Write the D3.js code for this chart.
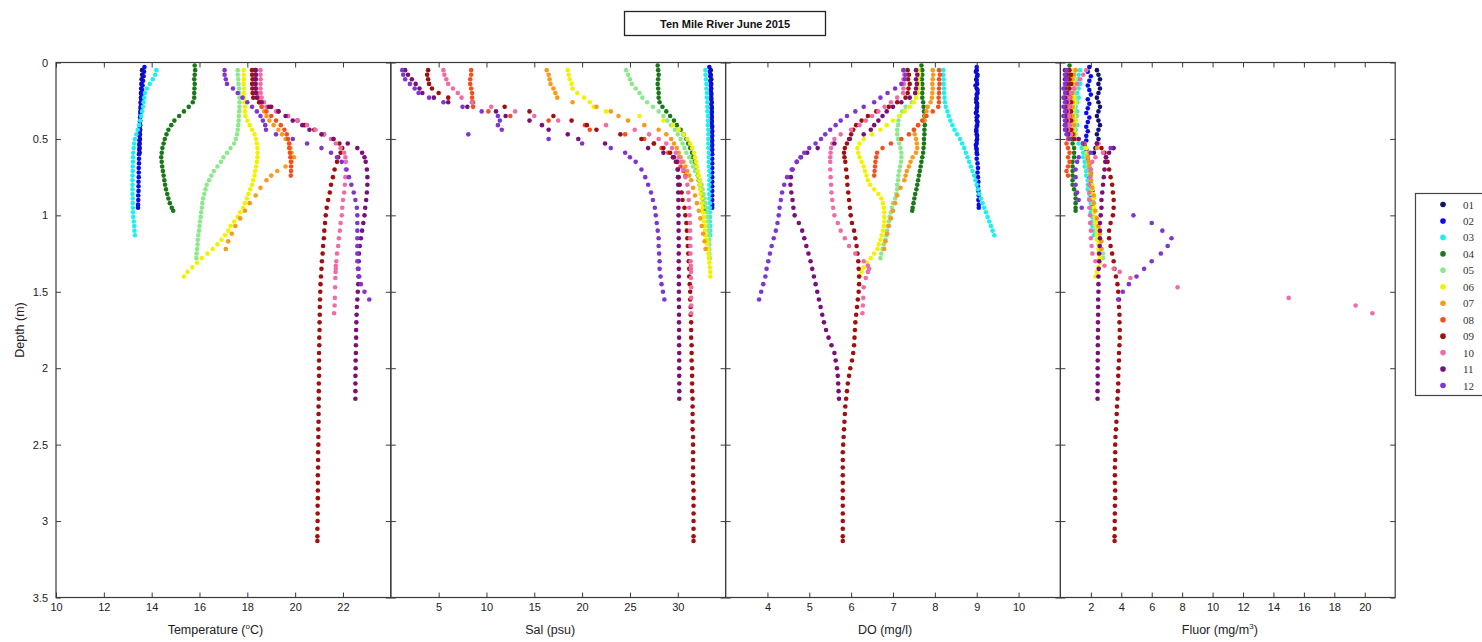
<!DOCTYPE html>
<html>
<head>
<meta charset="utf-8">
<script src="https://cdn.jsdelivr.net/npm/d3@7"></script>
<style>
  body { margin: 0; background: #fff; }
  text { font-family: "Liberation Sans", Arial, sans-serif; }
</style>
</head>
<body>
<div id="chart"></div>
<script>
// stations (legend entries) and their colours
const stations = ["01", "02", "03", "04", "05", "06", "07", "08", "09", "10", "11", "12"];
const colors = ["#12126e", "#0a0aee", "#22eeee", "#1a781a", "#8de88d", "#f2f200",
                "#f89a1c", "#f5501e", "#a01010", "#f06ca8", "#7a0f7a", "#7f35d0"];

// sample depths (m) for each station
const depth = [
  [0.05,0.08,0.11,0.14,0.17,0.20,0.23,0.26,0.29,0.32,0.35,0.38,0.41,0.44,0.47,0.50,0.53,0.56,0.59],
  [0.03,0.06,0.09,0.12,0.15,0.18,0.21,0.24,0.27,0.30,0.33,0.36,0.39,0.42,0.45,0.48,0.51,0.54,0.57,0.60,0.63,0.66,0.69,0.72,0.75,0.78,0.81,0.84,0.87,0.90,0.93,0.95],
  [0.05,0.08,0.11,0.14,0.17,0.20,0.23,0.26,0.29,0.32,0.35,0.38,0.41,0.44,0.47,0.50,0.53,0.56,0.59,0.62,0.65,0.68,0.71,0.74,0.77,0.80,0.83,0.86,0.89,0.92,0.95,0.98,1.01,1.04,1.07,1.10,1.13],
  [0.02,0.05,0.08,0.11,0.14,0.17,0.20,0.23,0.26,0.29,0.32,0.35,0.38,0.41,0.44,0.47,0.50,0.53,0.56,0.59,0.62,0.65,0.68,0.71,0.74,0.77,0.80,0.83,0.86,0.89,0.92,0.95,0.97],
  [0.05,0.08,0.11,0.14,0.17,0.20,0.23,0.26,0.29,0.32,0.35,0.38,0.41,0.44,0.47,0.50,0.53,0.56,0.59,0.62,0.65,0.68,0.71,0.74,0.77,0.80,0.83,0.86,0.89,0.92,0.95,0.98,1.01,1.04,1.07,1.10,1.13,1.16,1.19,1.22,1.25,1.28],
  [0.05,0.08,0.11,0.14,0.17,0.20,0.23,0.26,0.29,0.32,0.35,0.38,0.41,0.44,0.47,0.50,0.53,0.56,0.59,0.62,0.65,0.68,0.71,0.74,0.77,0.80,0.83,0.86,0.89,0.92,0.95,0.98,1.01,1.04,1.07,1.10,1.13,1.16,1.19,1.22,1.25,1.28,1.31,1.34,1.37,1.40],
  [0.05,0.08,0.11,0.14,0.17,0.20,0.23,0.26,0.29,0.32,0.35,0.38,0.41,0.44,0.47,0.50,0.53,0.56,0.59,0.62,0.65,0.68,0.71,0.74,0.77,0.82,0.87,0.92,0.97,1.02,1.07,1.12,1.17,1.22],
  [0.05,0.08,0.11,0.14,0.17,0.20,0.23,0.26,0.29,0.32,0.35,0.38,0.41,0.44,0.47,0.50,0.53,0.56,0.59,0.62,0.65,0.68,0.71,0.74],
  [0.05,0.08,0.11,0.14,0.17,0.20,0.23,0.26,0.29,0.32,0.35,0.38,0.41,0.44,0.47,0.50,0.53,0.56,0.59,0.62,0.65,
   0.70,0.75,0.80,0.85,0.90,0.95,1.00,1.05,1.10,1.15,1.20,1.25,1.30,1.35,1.40,1.45,1.50,1.55,1.60,1.65,1.70,1.75,1.80,1.85,1.90,1.95,
   2.00,2.05,2.10,2.15,2.20,2.25,2.30,2.35,2.40,2.45,2.50,2.55,2.60,2.65,2.70,2.75,2.80,2.85,2.90,2.95,3.00,3.05,3.10,3.13],
  [0.05,0.08,0.11,0.14,0.17,0.20,0.23,0.26,0.29,0.32,0.35,0.38,0.41,0.44,0.47,0.50,0.53,0.56,0.59,0.62,0.65,
   0.70,0.75,0.80,0.85,0.90,0.95,1.00,1.05,1.10,1.15,1.20,1.25,1.30,1.33,1.35,1.37,1.41,1.47,1.54,1.59,1.64],
  [0.05,0.08,0.11,0.14,0.17,0.20,0.23,0.26,0.29,0.32,0.35,0.38,0.41,0.44,0.47,0.50,0.53,0.56,0.59,0.62,0.65,
   0.70,0.75,0.80,0.85,0.90,0.95,1.00,1.05,1.10,1.15,1.20,1.25,1.30,1.35,1.40,1.45,1.50,1.55,1.60,1.65,1.70,1.75,1.80,1.85,1.90,1.95,2.00,2.05,2.10,2.15,2.20],
  [0.05,0.08,0.11,0.14,0.17,0.20,0.23,0.26,0.29,0.32,0.35,0.38,0.41,0.44,0.47,0.50,0.53,0.56,0.59,0.62,0.65,
   0.70,0.75,0.80,0.85,0.90,0.95,1.00,1.05,1.10,1.15,1.20,1.25,1.30,1.35,1.40,1.45,1.50,1.55]
];

// temperature (deg C)
const temperature = [
  [13.6,13.6,13.58,13.57,13.56,13.55,13.55,13.54,13.54,13.53,13.53,13.52,13.52,13.52,13.51,13.51,13.5,13.5,13.5],
  [13.7,13.68,13.66,13.64,13.62,13.6,13.58,13.57,13.55,13.54,13.53,13.52,13.51,13.5,13.5,13.49,13.49,13.48,13.48,13.47,13.47,13.47,13.46,13.46,13.46,13.45,13.45,13.45,13.44,13.44,13.43,13.43],
  [14.2,14.15,14.05,13.92,13.8,13.72,13.69,13.66,13.64,13.6,13.56,13.52,13.48,13.42,13.36,13.3,13.27,13.25,13.23,13.22,13.22,13.21,13.21,13.2,13.2,13.2,13.2,13.2,13.21,13.21,13.22,13.22,13.23,13.25,13.27,13.28,13.3],
  [15.8,15.82,15.8,15.78,15.8,15.79,15.78,15.78,15.72,15.55,15.35,15.15,14.95,14.82,14.7,14.62,14.55,14.5,14.45,14.42,14.4,14.42,14.44,14.47,14.5,14.53,14.56,14.6,14.65,14.7,14.76,14.84,14.9],
  [17.6,17.6,17.62,17.63,17.65,17.66,17.67,17.67,17.67,17.66,17.65,17.64,17.62,17.6,17.57,17.52,17.45,17.3,17.15,17.0,16.9,16.75,16.6,16.5,16.4,16.3,16.25,16.2,16.15,16.12,16.1,16.07,16.05,16.02,16.0,15.98,15.95,15.93,15.92,15.9,15.88,15.87],
  [17.85,17.85,17.86,17.85,17.86,17.86,17.87,17.88,17.9,17.9,17.92,18.0,18.1,18.2,18.3,18.36,18.4,18.42,18.43,18.42,18.4,18.37,18.33,18.3,18.25,18.2,18.12,18.05,17.98,17.9,17.83,17.7,17.6,17.45,17.3,17.2,17.07,16.92,16.75,16.55,16.33,16.1,15.9,15.7,15.5,15.35],
  [18.3,18.3,18.3,18.32,18.35,18.4,18.45,18.5,18.6,18.7,18.8,18.92,19.1,19.3,19.45,19.6,19.75,19.8,19.85,19.95,19.85,19.6,19.25,19.0,18.8,18.55,18.35,18.1,17.9,17.7,17.5,17.35,17.2,17.1],
  [18.35,18.35,18.36,18.35,18.37,18.4,18.45,18.5,18.6,18.8,19.0,19.2,19.4,19.55,19.65,19.7,19.75,19.75,19.78,19.8,19.82,19.83,19.83,19.82],
  [18.2,18.2,18.22,18.2,18.21,18.22,18.25,18.5,19.0,19.3,19.7,20.1,20.4,20.8,21.2,21.6,21.85,21.97,21.9,21.8,21.75,
   21.65,21.58,21.5,21.45,21.38,21.32,21.28,21.25,21.22,21.2,21.17,21.15,21.12,21.1,21.08,21.06,21.05,21.04,21.03,21.03,21.02,21.02,21.01,21.01,21.0,21.0,
   21.0,21.0,20.99,20.99,20.99,20.98,20.98,20.98,20.97,20.97,20.97,20.96,20.96,20.96,20.95,20.95,20.95,20.95,20.94,20.94,20.94,20.93,20.93,20.93],
  [18.55,18.55,18.56,18.55,18.55,18.56,18.6,18.7,18.8,19.2,19.7,20.1,20.5,20.85,21.2,21.5,21.7,21.9,22.05,22.1,22.12,
   22.12,22.1,22.08,22.05,22.0,21.97,21.95,21.9,21.87,21.83,21.8,21.75,21.72,21.7,21.7,21.69,21.68,21.67,21.66,21.65,21.63],
  [18.35,18.36,18.35,18.34,18.35,18.36,18.4,18.6,18.9,19.3,19.6,19.9,20.3,20.6,21.1,21.6,22.2,22.6,22.8,22.9,22.95,
   23.0,23.02,23.02,23.0,22.97,22.93,22.9,22.85,22.8,22.75,22.7,22.67,22.66,22.65,22.65,22.64,22.62,22.6,22.58,22.57,22.56,22.55,22.55,22.54,22.54,22.53,22.53,22.52,22.52,22.52,22.52],
  [17.05,17.05,17.1,17.15,17.4,17.6,17.8,18.0,18.2,18.4,18.55,18.65,18.75,18.78,19.2,19.9,20.5,21.1,21.5,21.75,21.95,
   22.15,22.25,22.35,22.45,22.52,22.58,22.6,22.6,22.6,22.6,22.6,22.6,22.6,22.62,22.68,22.75,22.9,23.1]
];

// salinity (psu)
const salinity = [
  [33.45,33.45,33.5,33.5,33.5,33.5,33.5,33.55,33.55,33.55,33.55,33.55,33.55,33.55,33.55,33.55,33.55,33.55,33.55],
  [33.3,33.35,33.4,33.4,33.45,33.45,33.5,33.5,33.5,33.55,33.55,33.55,33.55,33.6,33.6,33.6,33.6,33.6,33.6,33.6,33.6,33.6,33.6,33.6,33.6,33.6,33.6,33.6,33.6,33.6,33.6,33.6],
  [32.9,32.9,32.95,33.0,33.0,33.05,33.05,33.1,33.1,33.1,33.15,33.15,33.15,33.2,33.2,33.2,33.2,33.2,33.25,33.25,33.25,33.25,33.3,33.3,33.3,33.3,33.3,33.3,33.3,33.35,33.35,33.35,33.35,33.35,33.4,33.4,33.4],
  [27.9,27.95,28.0,27.95,27.9,27.95,28.0,28.0,28.1,28.4,28.8,29.2,29.6,29.9,30.3,30.6,30.9,31.1,31.3,31.5,31.6,31.8,31.9,32.0,32.1,32.2,32.3,32.4,32.5,32.6,32.7,32.75,32.8],
  [24.6,24.8,25.0,25.2,25.6,26.0,26.3,26.8,27.4,28.0,28.5,28.9,29.3,29.7,30.0,30.3,30.5,30.7,30.9,31.2,31.4,31.6,31.8,32.1,32.3,32.5,32.6,32.7,32.8,32.9,33.0,33.05,33.1,33.15,33.2,33.2,33.25,33.3,33.3,33.3,33.3,33.35],
  [18.5,18.6,18.7,18.9,19.0,19.5,20.2,20.8,21.2,22.5,26.0,28.5,29.5,30.1,30.6,31.0,31.3,31.5,31.7,31.8,31.9,32.0,32.1,32.2,32.25,32.3,32.35,32.4,32.5,32.55,32.6,32.65,32.7,32.75,32.8,32.85,32.9,33.0,33.1,33.15,33.2,33.25,33.3,33.35,33.4,33.4],
  [16.3,16.5,16.6,16.7,17.0,17.2,17.4,19.0,21.5,23.0,23.8,24.8,26.5,28.0,28.8,29.3,29.6,29.9,30.1,30.3,30.6,30.8,31.0,31.2,31.4,31.6,31.8,32.0,32.2,32.35,32.5,32.65,32.8,32.9],
  [8.4,8.4,8.3,8.3,8.4,8.5,8.5,8.6,8.6,10.2,12.5,16.5,20.3,20.8,24.5,26.5,27.5,28.3,29.0,29.5,30.0,30.3,30.6,30.8],
  [3.9,3.8,3.9,4.0,4.3,5.0,6.0,8.5,11.9,14.5,17.0,18.9,20.5,21.5,24.0,26.2,27.5,28.5,29.2,29.6,29.8,
   30.0,30.1,30.2,30.4,30.5,30.7,30.8,30.9,30.95,31.0,31.05,31.1,31.15,31.2,31.2,31.25,31.3,31.3,31.35,31.35,31.4,31.4,31.4,31.45,31.45,31.45,
   31.5,31.5,31.5,31.5,31.55,31.55,31.55,31.55,31.55,31.6,31.6,31.6,31.6,31.6,31.6,31.6,31.65,31.65,31.65,31.65,31.65,31.65,31.65,31.65],
  [5.5,5.6,5.8,6.0,6.5,7.0,7.4,8.5,10.5,13.0,15.0,17.5,22.5,25.5,27.0,28.0,28.8,29.4,29.8,30.1,30.4,
   30.6,30.8,31.0,31.1,31.15,31.2,31.25,31.28,31.3,31.3,31.32,31.33,31.35,31.36,31.37,31.38,31.38,31.4,31.4,31.4,31.4],
  [1.5,1.8,2.2,2.6,3.0,3.3,4.5,6.0,8.0,11.0,12.0,14.5,15.8,16.5,18.5,19.6,22.4,26.9,28.5,29.5,29.9,
   30.0,30.02,30.05,30.05,30.06,30.07,30.08,30.08,30.09,30.1,30.1,30.1,30.1,30.11,30.11,30.12,30.12,30.12,30.13,30.13,30.13,30.14,30.14,30.14,30.15,30.15,30.15,30.15,30.16,30.16,30.16],
  [1.2,1.3,1.5,2.0,2.5,2.9,4.0,5.5,7.5,9.5,11.2,11.4,11.2,11.6,8.1,16.5,20.0,23.0,24.5,25.0,25.6,
   26.2,26.6,26.9,27.2,27.4,27.6,27.7,27.8,27.9,28.0,28.0,28.05,28.1,28.1,28.2,28.3,28.45,28.6]
];

// dissolved oxygen (mg/l)
const oxygen = [
  [9.0,9.02,8.99,9.01,9.0,9.02,9.0,8.99,9.01,9.0,9.02,9.0,9.01,8.99,9.0,9.01,9.0,8.99,9.0],
  [9.0,8.98,9.01,9.0,8.97,9.02,9.0,8.99,9.01,9.0,8.98,9.0,9.02,9.0,8.99,9.01,9.0,8.98,9.0,9.01,9.0,9.02,9.03,9.02,9.03,9.04,9.03,9.04,9.05,9.04,9.05,9.05],
  [8.2,8.2,8.21,8.21,8.22,8.22,8.23,8.24,8.26,8.3,8.33,8.37,8.42,8.47,8.53,8.6,8.65,8.7,8.74,8.78,8.82,8.86,8.9,8.94,8.97,9.0,9.03,9.06,9.1,9.14,9.18,9.22,9.26,9.3,9.34,9.38,9.42],
  [7.68,7.7,7.7,7.69,7.7,7.71,7.7,7.7,7.72,7.73,7.74,7.75,7.75,7.76,7.75,7.75,7.74,7.74,7.73,7.72,7.7,7.68,7.66,7.64,7.62,7.6,7.58,7.56,7.53,7.51,7.49,7.47,7.46],
  [7.6,7.62,7.6,7.61,7.6,7.58,7.55,7.45,7.3,7.22,7.16,7.13,7.12,7.1,7.1,7.12,7.15,7.18,7.2,7.2,7.19,7.17,7.15,7.13,7.12,7.1,7.1,7.08,7.05,7.0,6.97,6.95,6.92,6.9,6.88,6.86,6.84,6.82,6.78,6.75,6.72,6.7],
  [7.6,7.62,7.6,7.61,7.6,7.59,7.55,7.5,7.4,7.28,7.15,7.0,6.85,6.7,6.5,6.3,6.2,6.15,6.17,6.2,6.25,6.3,6.33,6.37,6.4,6.45,6.55,6.65,6.72,6.76,6.78,6.79,6.79,6.79,6.78,6.76,6.73,6.7,6.66,6.63,6.55,6.47,6.38,6.3,6.25,6.2],
  [7.95,7.96,7.95,7.94,7.95,7.94,7.93,7.9,7.83,7.8,7.77,7.75,7.6,7.5,7.52,7.55,7.57,7.58,7.55,7.47,7.42,7.38,7.33,7.3,7.27,7.18,7.1,7.05,7.0,6.95,6.9,6.86,6.82,6.79],
  [8.1,8.12,8.1,8.11,8.1,8.1,8.09,8.1,8.08,7.95,7.8,7.7,7.6,7.5,7.38,7.2,6.95,6.75,6.62,6.6,6.58,6.57,6.56,6.55],
  [7.35,7.38,7.36,7.4,7.37,7.35,7.3,7.1,6.9,6.6,6.4,6.25,6.12,6.05,6.0,5.97,5.9,5.85,5.83,5.84,5.86,
   5.88,5.9,5.91,5.93,5.95,5.97,5.99,6.02,6.07,6.1,6.13,6.15,6.17,6.18,6.19,6.19,6.18,6.16,6.14,6.12,6.1,6.09,6.08,6.07,6.05,6.02,
   5.98,5.95,5.92,5.9,5.88,5.86,5.85,5.84,5.83,5.82,5.81,5.8,5.8,5.8,5.8,5.8,5.8,5.8,5.8,5.8,5.8,5.8,5.8,5.8],
  [7.25,7.27,7.25,7.26,7.25,7.24,7.1,6.95,6.8,6.65,6.5,6.35,6.2,6.0,5.75,5.6,5.55,5.52,5.51,5.5,5.5,
   5.5,5.51,5.52,5.53,5.55,5.57,5.6,5.68,5.75,5.85,5.95,6.1,6.3,6.4,6.43,6.4,6.35,6.3,6.29,6.28,6.27],
  [7.55,7.58,7.55,7.57,7.55,7.53,7.4,7.2,7.0,6.85,6.75,6.65,6.55,6.47,6.3,5.95,5.6,5.2,4.95,4.8,4.7,
   4.6,4.56,4.55,4.57,4.6,4.62,4.65,4.75,4.83,4.88,4.93,4.98,5.03,5.07,5.11,5.15,5.19,5.23,5.27,5.31,5.35,5.4,5.46,5.53,5.6,5.63,5.66,5.68,5.69,5.7,5.71],
  [7.25,7.3,7.28,7.2,7.05,6.87,6.7,6.55,6.3,6.1,5.9,5.75,5.63,5.5,5.38,5.28,5.15,5.0,4.88,4.79,4.7,
   4.58,4.47,4.4,4.35,4.32,4.29,4.27,4.24,4.2,4.15,4.1,4.06,4.02,3.98,3.95,3.9,3.85,3.8]
];

// fluorescence (mg/m3)
const fluor = [
  [2.4,2.5,2.6,2.5,2.6,2.5,2.4,2.5,2.6,2.5,2.4,2.5,2.6,2.5,2.4,2.5,2.4,2.3,2.2],
  [1.9,1.8,2.0,1.9,1.8,1.9,2.0,1.8,1.9,1.8,1.7,1.9,1.8,1.7,1.8,1.7,1.7,1.6,1.7,1.8,1.8,1.9,1.9,2.0,1.9,2.0,2.0,2.1,2.0,2.1,2.1,2.1],
  [1.3,1.2,1.2,1.3,1.2,1.1,1.2,1.1,1.0,1.1,1.0,1.0,1.1,1.0,0.9,1.0,1.2,1.4,1.5,1.5,1.6,1.6,1.7,1.7,1.8,1.8,1.8,1.9,1.9,2.0,2.0,2.0,2.1,2.1,2.1,2.2,2.2],
  [0.6,0.5,0.6,0.5,0.6,0.5,0.5,0.6,0.5,0.6,0.6,0.5,0.6,0.5,0.6,0.6,0.7,0.8,0.9,0.9,0.9,0.8,0.8,0.8,0.8,0.8,0.8,0.9,1.0,1.0,1.0,1.0,1.0],
  [1.0,0.9,1.0,1.1,1.0,0.9,1.0,1.0,0.9,1.0,1.1,1.0,1.0,0.9,1.0,1.1,1.4,1.6,1.7,1.7,1.8,1.8,1.9,1.9,2.0,2.0,2.0,2.1,2.1,2.1,2.2,2.2,2.2,2.3,2.3,2.4,2.4,2.5,2.6,2.7,2.8,2.8],
  [0.9,0.8,0.9,1.0,0.9,0.8,0.9,1.0,0.9,0.8,0.9,1.0,0.9,0.9,1.0,1.2,1.5,1.7,1.8,1.8,1.9,1.9,2.0,2.0,2.0,2.1,2.1,2.1,2.2,2.2,2.2,2.2,2.3,2.3,2.3,2.4,2.4,2.4,2.5,2.5,2.5,2.6,2.6,2.5,2.4,2.3],
  [1.0,0.9,0.8,0.8,0.9,0.8,0.7,0.8,0.8,0.7,0.8,0.8,0.9,0.8,0.9,1.0,1.6,2.4,1.9,1.8,1.85,1.9,1.95,2.0,2.0,2.1,2.2,2.2,2.3,2.4,2.5,2.6,2.7,2.7],
  [0.5,0.4,0.5,0.4,0.5,0.4,0.5,0.4,0.5,0.4,0.5,0.4,0.5,0.4,0.5,0.5,0.4,0.5,0.6,0.5,0.6,0.5,0.4,0.5],
  [0.6,0.7,0.6,0.7,0.6,0.7,0.6,0.7,0.6,0.7,0.6,0.7,0.6,0.7,0.8,0.9,1.5,2.7,2.9,3.0,3.1,
   3.2,3.3,3.4,3.45,3.5,3.5,3.45,3.3,3.2,3.2,3.3,3.4,3.5,3.55,3.65,3.75,3.8,3.85,3.85,3.88,3.88,3.9,3.9,3.88,3.85,3.85,
   3.82,3.8,3.8,3.78,3.75,3.72,3.7,3.68,3.65,3.62,3.6,3.6,3.6,3.58,3.58,3.58,3.6,3.6,3.58,3.58,3.57,3.57,3.56,3.56],
  [1.7,1.5,1.3,1.1,0.9,0.7,0.6,0.5,0.6,0.5,0.6,0.5,0.6,0.5,0.7,1.2,2.5,3.4,2.8,2.3,2.1,
   2.0,1.95,1.9,1.9,1.9,1.9,1.95,1.95,2.0,2.0,2.05,2.1,2.3,2.9,3.5,3.9,4.6,7.7,15.0,19.4,20.5],
  [0.3,0.4,0.3,0.4,0.3,0.4,0.3,0.4,0.3,0.4,0.3,0.4,0.3,0.4,0.5,1.2,2.4,3.5,3.2,3.0,2.95,
   2.9,2.85,2.8,2.75,2.7,2.7,2.65,2.6,2.6,2.6,2.58,2.55,2.55,2.52,2.5,2.5,2.5,2.48,2.48,2.48,2.47,2.47,2.46,2.46,2.46,2.45,2.45,2.45,2.45,2.44,2.44],
  [0.4,0.3,0.4,0.3,0.2,0.3,0.2,0.3,0.2,0.3,0.2,0.3,0.3,0.3,0.4,0.6,1.5,3.3,2.0,1.2,1.1,
   1.0,1.0,1.0,1.1,1.2,1.4,4.8,6.0,6.7,7.3,7.05,6.6,6.0,5.5,5.0,4.5,4.1,3.8]
];

// axis ticks
const depthTicks = [0, 0.5, 1, 1.5, 2, 2.5, 3, 3.5];
const tempTicks = [10, 12, 14, 16, 18, 20, 22];
const salTicks = [5, 10, 15, 20, 25, 30];
const doTicks = [4, 5, 6, 7, 8, 9, 10];
const fluorTicks = [2, 4, 6, 8, 10, 12, 14, 16, 18, 20];

const width = 1482, height = 642;
const svg = d3.select("#chart").append("svg")
    .attr("width", width)
    .attr("height", height);

const plotTop = 62.5, plotBottom = 597.5;
const plotLeft = 56, panelW = 334.8;
const axisColor = "#3a3a3a";
const y = d3.scaleLinear().domain([0, 3.5]).range([plotTop, plotBottom]);

const panels = [
    {values: temperature, domain: [10, 24], ticks: tempTicks, label: ["Temperature (", "o", "C)"]},
    {values: salinity, domain: [0, 35], ticks: salTicks, label: ["Sal (psu)"]},
    {values: oxygen, domain: [3, 11], ticks: doTicks, label: ["DO (mg/l)"]},
    {values: fluor, domain: [0, 22], ticks: fluorTicks, label: ["Fluor (mg/m", "3", ")"]}
];

panels.forEach((p, i) => {
    const x0 = plotLeft + i * panelW;
    const x = d3.scaleLinear().domain(p.domain).range([x0, x0 + panelW]);
    const g = svg.append("g");

    // points, one group per station so that later stations sit on top
    stations.forEach((s, k) => {
        const pts = depth[k].map((d, j) => ({d: d, v: p.values[k][j]}));
        g.append("g").selectAll("circle")
            .data(pts)
            .join("circle")
            .attr("cx", d => x(d.v))
            .attr("cy", d => y(d.d))
            .attr("r", 2.3)
            .attr("fill", colors[k]);
    });

    // inward ticks on all four sides
    const bottomAxis = g.append("g")
        .attr("transform", "translate(0," + plotBottom + ")")
        .call(d3.axisBottom(x).tickValues(p.ticks).tickSizeInner(-5).tickSizeOuter(0).tickPadding(6));
    const topAxis = g.append("g")
        .attr("transform", "translate(0," + plotTop + ")")
        .call(d3.axisTop(x).tickValues(p.ticks).tickSizeInner(-5).tickSizeOuter(0).tickFormat(""));
    const leftAxis = g.append("g")
        .attr("transform", "translate(" + x0 + ",0)")
        .call(d3.axisLeft(y).tickValues(depthTicks).tickSizeInner(-5).tickSizeOuter(0).tickPadding(8)
            .tickFormat(i === 0 ? d3.format("") : ""));
    const rightAxis = g.append("g")
        .attr("transform", "translate(" + (x0 + panelW) + ",0)")
        .call(d3.axisRight(y).tickValues(depthTicks).tickSizeInner(-5).tickSizeOuter(0).tickFormat(""));

    [bottomAxis, topAxis, leftAxis, rightAxis].forEach(a => {
        a.select(".domain").remove();
        a.selectAll("line").attr("stroke", axisColor);
        a.selectAll("text").attr("fill", "#222").style("font-size", "11px");
    });

    g.append("rect")
        .attr("x", x0)
        .attr("y", plotTop)
        .attr("width", panelW)
        .attr("height", plotBottom - plotTop)
        .attr("fill", "none")
        .attr("stroke", axisColor)
        .attr("stroke-width", 1.2);

    // x label
    const lab = svg.append("text")
        .attr("x", x0 + panelW / 2 - 8)
        .attr("y", 634)
        .attr("text-anchor", "middle")
        .attr("fill", "#222")
        .style("font-size", "12.5px");
    p.label.forEach((part, j) => {
        const t = lab.append("tspan").text(part);
        if (j === 1) t.attr("dy", -5).style("font-size", "8px");
        if (j === 2) t.attr("dy", 5);
    });
});

// y label
svg.append("text")
    .attr("transform", "translate(24," + ((plotTop + plotBottom) / 2) + ") rotate(-90)")
    .attr("text-anchor", "middle")
    .attr("fill", "#222")
    .style("font-size", "12.5px")
    .text("Depth (m)");

// title box
svg.append("rect")
    .attr("x", 624.5).attr("y", 11.5)
    .attr("width", 201).attr("height", 24)
    .attr("fill", "#fff")
    .attr("stroke", "#222")
    .attr("stroke-width", 1.3);
svg.append("text")
    .attr("x", 725).attr("y", 24)
    .attr("text-anchor", "middle")
    .attr("dominant-baseline", "central")
    .attr("fill", "#111")
    .style("font-size", "11px")
    .style("font-weight", "bold")
    .text("Ten Mile River June 2015");

// legend
const legend = svg.append("g");
legend.append("rect")
    .attr("x", 1415.5).attr("y", 193.5)
    .attr("width", 90).attr("height", 202)
    .attr("fill", "#fff")
    .attr("stroke", "#444")
    .attr("stroke-width", 1.2);
const ly = d3.scalePoint().domain(stations).range([204.5, 385.5]);
stations.forEach((s, k) => {
    legend.append("circle")
        .attr("cx", 1443)
        .attr("cy", ly(s))
        .attr("r", 2.8)
        .attr("fill", colors[k]);
    legend.append("text")
        .attr("x", 1463)
        .attr("y", ly(s))
        .attr("dominant-baseline", "central")
        .attr("fill", "#333")
        .style("font-family", "'Liberation Serif', 'Times New Roman', serif")
        .style("font-size", "11px")
        .text(s);
});
</script>
</body>
</html>
